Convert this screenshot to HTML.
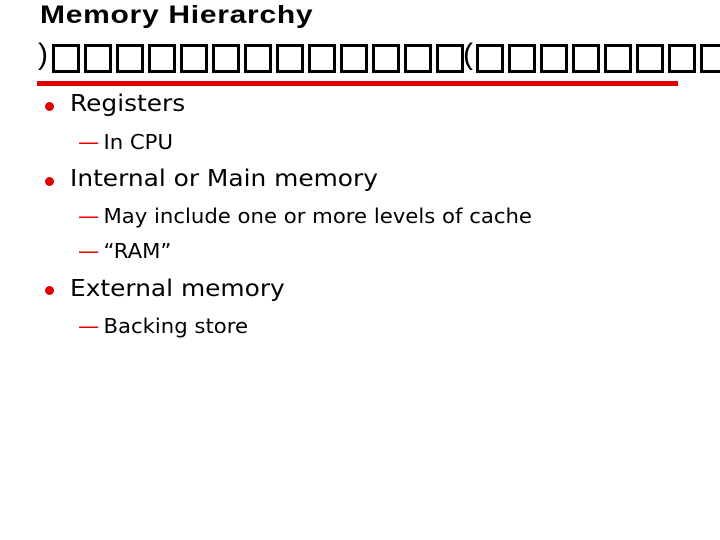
<!DOCTYPE html>
<html><head><meta charset="utf-8"><style>
body{margin:0;width:720px;height:540px;background:#fff;position:relative;overflow:hidden;font-family:"DejaVu Sans","Liberation Sans",sans-serif;color:#000}
.a{position:absolute;white-space:nowrap}
.t{font-family:"Liberation Sans",sans-serif;font-weight:bold;font-size:25px;left:40px;top:1px;transform:scaleX(1.2);transform-origin:left;letter-spacing:0.6px}
.b{position:absolute;width:22px;height:23px;border:3px solid #000;top:44px}
.m{font-size:23px;transform:scaleX(1.08);transform-origin:left}
.s{font-size:20px;transform:scaleX(1.06);transform-origin:left}
.d{color:#e00000;display:inline-block;width:24px}
.dot{position:absolute;width:9px;height:9px;border-radius:50%;background:#e00000}
</style></head><body>
<div class="a t">Memory Hierarchy</div>
<div class="a" style="left:38px;top:38px;font-size:30px;font-family:'Liberation Sans',sans-serif">)</div>
<div class="a" style="left:463px;top:38px;font-size:30px;font-family:'Liberation Sans',sans-serif">(</div>
<div style="position:absolute;left:37px;top:81px;width:641px;height:5px;background:#e00000"></div>

<div class="dot" style="left:45px;top:102px"></div>
<div class="a m" style="left:70px;top:91px">Registers</div>
<div class="a s" style="left:78px;top:130px"><span class="d">—</span>In CPU</div>

<div class="dot" style="left:45px;top:177px"></div>
<div class="a m" style="left:70px;top:166px">Internal or Main memory</div>
<div class="a s" style="left:78px;top:204px"><span class="d">—</span>May include one or more levels of cache</div>
<div class="a s" style="left:78px;top:239px"><span class="d">—</span>“RAM”</div>

<div class="dot" style="left:45px;top:286px"></div>
<div class="a m" style="left:70px;top:276px">External memory</div>
<div class="a s" style="left:78px;top:314px"><span class="d">—</span>Backing store</div>

<div class="b" style="left:52px"></div><div class="b" style="left:84px"></div><div class="b" style="left:116px"></div><div class="b" style="left:148px"></div><div class="b" style="left:180px"></div><div class="b" style="left:212px"></div><div class="b" style="left:244px"></div><div class="b" style="left:276px"></div><div class="b" style="left:308px"></div><div class="b" style="left:340px"></div><div class="b" style="left:372px"></div><div class="b" style="left:404px"></div><div class="b" style="left:436px"></div>
<div class="b" style="left:476px"></div><div class="b" style="left:508px"></div><div class="b" style="left:540px"></div><div class="b" style="left:572px"></div><div class="b" style="left:604px"></div><div class="b" style="left:636px"></div><div class="b" style="left:668px"></div><div class="b" style="left:700px"></div>
</body></html>
